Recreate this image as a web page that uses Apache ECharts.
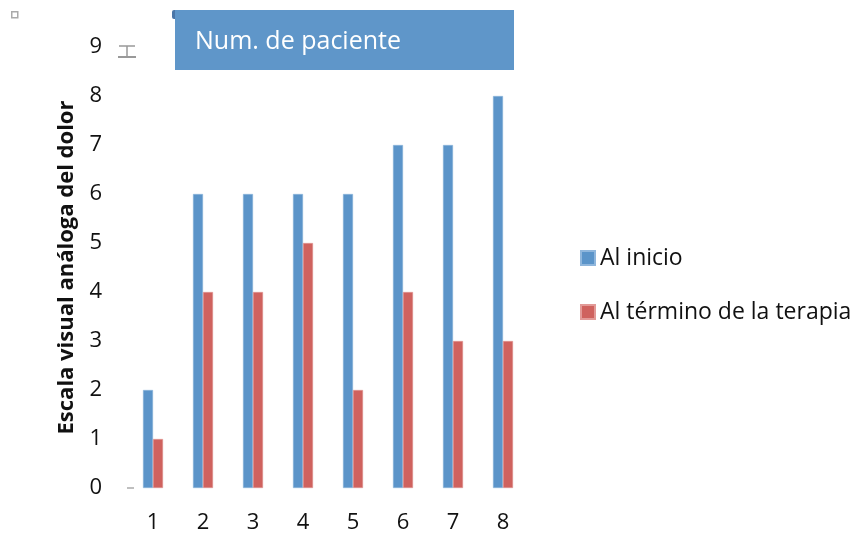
<!DOCTYPE html>
<html>
<head>
<meta charset="utf-8">
<script src="https://cdn.jsdelivr.net/npm/echarts@6/dist/echarts.min.js"></script>
<style>
  html, body { margin: 0; padding: 0; background: #fff; }
  #chart { width: 858px; height: 536px; }
</style>
</head>
<body>
<div id="chart"></div>
<script>
// Patient numbers and pain scores (visual analogue scale)
const categories = ['1', '2', '3', '4', '5', '6', '7', '8'];
const seriesNames = ['Al inicio', 'Al término de la terapia'];
const inicio = [2, 6, 6, 6, 6, 7, 7, 8];
const termino = [1, 4, 4, 5, 2, 4, 3, 3];
const yTicks = [0, 1, 2, 3, 4, 5, 6, 7, 8, 9];

const FONT = '"Open Sans", sans-serif';
const BLUE = '#5B94C9';
const RED = '#CF625E';

const chart = echarts.init(document.getElementById('chart'), null, { renderer: 'canvas' });

chart.setOption({
  animation: false,
  backgroundColor: '#ffffff',
  title: {
    text: 'Num. de paciente',
    left: 175,
    top: 10,
    padding: [16, 20, 12, 20],
    backgroundColor: '#5F96C9',
    textStyle: { color: '#ffffff', fontFamily: FONT, fontSize: 25, fontWeight: 'normal', width: 299, height: 32, lineHeight: 32 }
  },
  legend: {
    orient: 'vertical',
    left: 580,
    top: 246,
    padding: 0,
    itemWidth: 14,
    itemHeight: 14,
    itemGap: 30,
    icon: 'rect',
    data: seriesNames,
    textStyle: { fontFamily: FONT, fontSize: 23, lineHeight: 24, color: '#111', padding: [0, 0, 0, 0] }
  },
  grid: { left: 128, right: 330, top: 47, bottom: 48, containLabel: false },
  xAxis: {
    type: 'category',
    data: categories,
    axisLine: { show: false },
    axisTick: { show: false },
    axisLabel: { fontFamily: FONT, fontSize: 22, color: '#111', margin: 24 }
  },
  yAxis: {
    type: 'value',
    min: yTicks[0],
    max: yTicks[yTicks.length - 1],
    interval: 1,
    name: 'Escala visual análoga del dolor',
    nameLocation: 'middle',
    nameGap: 50,
    nameTextStyle: { fontFamily: FONT, fontSize: 22, fontWeight: 'bold', color: '#111' },
    axisLine: { show: false },
    axisTick: { show: false },
    splitLine: { show: false },
    axisLabel: { fontFamily: FONT, fontSize: 22, color: '#111', margin: 26, padding: [3, 0, 0, 0] }
  },
  series: [
    {
      name: seriesNames[0], type: 'bar', data: inicio, barWidth: 10, barGap: '0%',
      itemStyle: { color: BLUE, borderColor: '#8fb6dc', borderWidth: 0.5 }
    },
    {
      name: seriesNames[1], type: 'bar', data: termino, barWidth: 10, barGap: '0%',
      itemStyle: { color: RED, borderColor: '#e29a97', borderWidth: 0.5 }
    }
  ],
  graphic: [
    // small editing handles left on the drawing
    { type: 'rect', left: 11, top: 11, shape: { width: 6, height: 6 }, style: { fill: '#fff', stroke: '#aaa', lineWidth: 1.5 } },
    { type: 'rect', left: 172, top: 10, shape: { width: 11, height: 9, r: 2 }, style: { fill: '#4a76a8' } },
    { type: 'polyline', shape: { points: [[119, 46], [135, 46]] }, style: { stroke: '#999', lineWidth: 1.5 } },
    { type: 'polyline', shape: { points: [[127, 46], [127, 57]] }, style: { stroke: '#999', lineWidth: 1.5 } },
    { type: 'polyline', shape: { points: [[118, 57], [136, 57]] }, style: { stroke: '#999', lineWidth: 2 } },
    { type: 'polyline', shape: { points: [[127, 488], [134, 488]] }, style: { stroke: '#aaa', lineWidth: 1.5 } }
  ]
});
</script>
</body>
</html>
